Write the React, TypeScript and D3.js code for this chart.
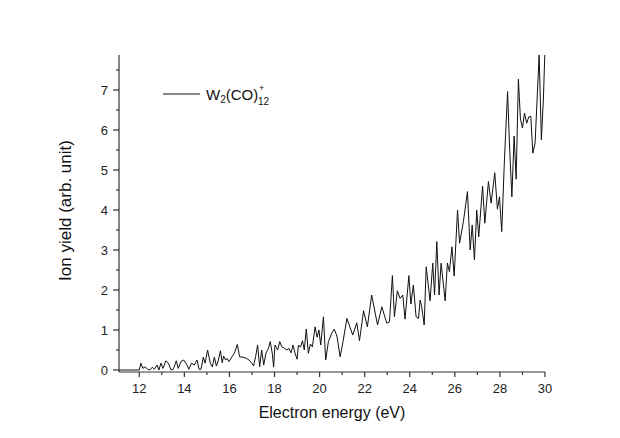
import React from "react";
import * as d3 from "d3";

const energy = [
  11.1, 12.0, 12.07, 12.16, 12.25, 12.37, 12.47, 12.58, 12.67, 12.79, 12.87, 12.96, 13.05, 13.18, 13.29, 13.41,
  13.51, 13.64, 13.73, 13.85, 13.97, 14.12, 14.2, 14.32, 14.44, 14.56, 14.65, 14.74, 14.84, 14.92, 15.03, 15.15,
  15.24, 15.33, 15.42, 15.51, 15.6, 15.68, 15.74, 15.83, 15.89, 15.98, 16.1, 16.22, 16.35, 16.45, 16.6, 16.75,
  16.87, 16.99, 17.07, 17.16, 17.25, 17.34, 17.43, 17.52, 17.62, 17.73, 17.81, 17.9, 17.96, 18.02, 18.14, 18.23,
  18.32, 18.44, 18.55, 18.64, 18.73, 18.82, 18.91, 19.0, 19.06, 19.15, 19.24, 19.32, 19.41, 19.5, 19.59, 19.68,
  19.8, 19.89, 19.97, 20.05, 20.17, 20.27, 20.39, 20.54, 20.65, 20.77, 20.91, 21.04, 21.21, 21.47, 21.65, 21.77,
  21.95, 22.12, 22.31, 22.57, 22.76, 22.98, 23.1, 23.23, 23.32, 23.45, 23.57, 23.69, 23.79, 23.96, 24.05, 24.16,
  24.28, 24.39, 24.46, 24.53, 24.64, 24.73, 24.9, 25.02, 25.1, 25.2, 25.3, 25.39, 25.57, 25.67, 25.76, 25.87,
  25.97, 26.12, 26.21, 26.38, 26.56, 26.68, 26.77, 26.87, 26.97, 27.06, 27.23, 27.33, 27.49, 27.61, 27.77, 27.89,
  27.98, 28.08, 28.2, 28.34, 28.42, 28.53, 28.63, 28.72, 28.82, 28.91, 29.0, 29.09, 29.19, 29.28, 29.37, 29.46,
  29.56, 29.64, 29.74, 29.84, 29.93, 29.99,
];

const ionYield = [
  0, 0, 0.17, 0.04, 0.08, 0.02, 0, 0.07, 0.02, 0.125, 0, 0.17, 0.04, 0.23, 0.17, 0,
  0.02, 0.23, 0.04, 0.21, 0.25, 0.125, 0.02, 0.17, 0.125, 0.25, 0.02, 0.02, 0.32, 0.17, 0.5, 0.17,
  0.08, 0.32, 0.1, 0.25, 0.48, 0.18, 0.35, 0.25, 0.29, 0.21, 0.32, 0.42, 0.64, 0.33, 0.32, 0.29,
  0.25, 0.17, 0.1, 0.33, 0.625, 0.08, 0.5, 0.125, 0.42, 0.54, 0.71, 0.42, 0.07, 0.625, 0.5, 0.71,
  0.58, 0.54, 0.5, 0.54, 0.43, 0.625, 0.42, 0.27, 0.625, 0.57, 0.73, 0.5, 1.025, 0.42, 0.65, 0.58,
  1.08, 0.82, 1.0, 0.625, 1.33, 0.25, 0.71, 0.92, 1.02, 0.85, 0.33, 0.71, 1.29, 0.875, 1.18, 0.73,
  1.48, 1.08, 1.875, 1.125, 1.58, 1.17, 1.2, 2.36, 1.33, 1.98, 1.79, 1.875, 1.27, 2.36, 1.65, 2.125,
  1.33, 1.29, 1.75, 1.58, 1.125, 2.58, 1.73, 2.67, 1.875, 3.21, 1.875, 2.67, 1.73, 2.67, 2.46, 3.08,
  2.35, 4.0, 3.17, 3.71, 4.46, 3.0, 3.625, 2.75, 4.0, 3.33, 4.6, 3.67, 4.71, 4.17, 4.93, 4.02,
  4.33, 3.46, 5.25, 6.96, 5.7, 4.33, 5.85, 4.77, 7.27, 6.28, 6.05, 6.42, 6.17, 6.33, 6.34, 5.42,
  5.67, 6.65, 7.875, 5.75, 6.8, 7.875,
];

const xTicks = [12, 14, 16, 18, 20, 22, 24, 26, 28, 30];
const xMinorTicks = [13, 15, 17, 19, 21, 23, 25, 27, 29];
const yTicks = [0, 1, 2, 3, 4, 5, 6, 7];
const yMinorTicks = [0.5, 1.5, 2.5, 3.5, 4.5, 5.5, 6.5, 7.5];

const xTitle = "Electron energy (eV)";
const yTitle = "Ion yield (arb. unit)";

export default function App() {
  const W = 620, H = 438;
  const left = 119, right = 545, top = 55, bottom = 372;
  const x = d3.scaleLinear().domain([11.1, 30]).range([left, right]);
  const y = d3.scaleLinear().domain([-0.05, 7.875]).range([bottom, top]);
  const pts = energy.map((e, i) => [e, ionYield[i]] as [number, number]);
  const line = d3.line<[number, number]>().x(d => x(d[0])).y(d => y(d[1]));
  const font = "'Liberation Sans', Arial, sans-serif";
  const axisColor = "#333";

  return (
    <svg width={W} height={H} style={{ position: "absolute", left: 0, top: 0, background: "#fff" }} fontFamily={font}>
      <rect x={0} y={0} width={W} height={H} fill="#fff" />
      <defs>
        <clipPath id="plotclip">
          <rect x={left} y={top - 1} width={right - left + 1} height={bottom - top + 1} />
        </clipPath>
      </defs>
      <path d={line(pts) || ""} fill="none" stroke="#111" strokeWidth={1} strokeLinejoin="miter" clipPath="url(#plotclip)" />
      <line x1={left} x2={left} y1={top} y2={bottom} stroke={axisColor} strokeWidth={1.2} />
      <line x1={left} x2={right} y1={bottom} y2={bottom} stroke={axisColor} strokeWidth={1.2} />
      {yTicks.map(t => (
        <g key={"y" + t}>
          <line x1={left - 6} x2={left} y1={y(t)} y2={y(t)} stroke={axisColor} strokeWidth={1.2} />
          <text x={left - 11} y={y(t)} dy="0.36em" textAnchor="end" fontSize={13} fill="#222">{t}</text>
        </g>
      ))}
      {yMinorTicks.map(t => (
        <line key={"ym" + t} x1={left - 3} x2={left} y1={y(t)} y2={y(t)} stroke={axisColor} strokeWidth={1.2} />
      ))}
      {xTicks.map(t => (
        <g key={"x" + t}>
          <line x1={x(t)} x2={x(t)} y1={bottom} y2={bottom + 5} stroke={axisColor} strokeWidth={1.2} />
          <text x={x(t)} y={393} textAnchor="middle" fontSize={13} fill="#222">{t}</text>
        </g>
      ))}
      {xMinorTicks.map(t => (
        <line key={"xm" + t} x1={x(t)} x2={x(t)} y1={bottom} y2={bottom + 3} stroke={axisColor} strokeWidth={1.2} />
      ))}
      <text x={(left + right) / 2} y={418} textAnchor="middle" fontSize={16} fill="#111">{xTitle}</text>
      <text transform={`translate(71,${(top + bottom) / 2 - 3}) rotate(-90)`} textAnchor="middle" fontSize={17} fill="#111">{yTitle}</text>
      <line x1={163} x2={200} y1={94} y2={94} stroke="#111" strokeWidth={1} />
      <text x={206} y={100} fontSize={15} fill="#111">
        W<tspan fontSize={10} dy={3}>2</tspan><tspan dy={-3}>(CO)</tspan>
      </text>
      <text x={259} y={91} fontSize={9} fill="#111">+</text>
      <text x={258} y={105} fontSize={10} fill="#111">12</text>
    </svg>
  );
}
